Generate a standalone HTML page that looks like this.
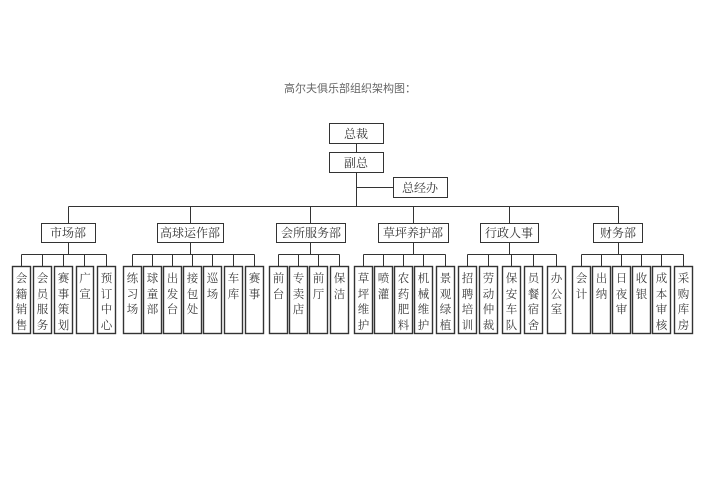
<!DOCTYPE html>
<html><head><meta charset="utf-8"><style>
body{margin:0;background:#fff}
svg{display:block}
text{font-family:"Liberation Serif","Noto Serif CJK SC","Noto Sans CJK SC",serif;font-size:12px;fill:#333}
#v text{font-size:11.5px;fill:#3a3a3a}
</style></head><body>
<svg width="707" height="500" xmlns="http://www.w3.org/2000/svg">
<text x="350" y="92" text-anchor="middle" style="font-family:'Liberation Sans','Noto Sans CJK SC',sans-serif;font-size:11px;fill:#666">高尔夫俱乐部组织架构图：</text>
<g stroke="#333" stroke-width="1" fill="none">
<rect x="329.5" y="123.5" width="54" height="20"/>
<rect x="329.5" y="152.5" width="54" height="20"/>
<rect x="393.5" y="177.5" width="54" height="20"/>
<path d="M356.5 143.5V152.5M356.5 172.5V206.5M356.5 187.5H393.5M68.5 206.5H618.5"/>
<path d="M68.5 206.5V223.5M190.5 206.5V223.5M310.5 206.5V223.5M413.5 206.5V223.5M509.5 206.5V223.5M618.5 206.5V223.5"/>
<rect x="41.5" y="223.5" width="54" height="19"/>
<rect x="157.5" y="223.5" width="66" height="19"/>
<rect x="276.5" y="223.5" width="69" height="19"/>
<rect x="378.5" y="223.5" width="70" height="19"/>
<rect x="480.5" y="223.5" width="58" height="19"/>
<rect x="593.5" y="223.5" width="49" height="19"/>
<path d="M68.5 242.5V254.5M190.5 242.5V254.5M310.5 242.5V254.5M413.5 242.5V254.5M509.5 242.5V254.5M618.5 242.5V254.5"/>
<path d="M21.5 254.5H106.5M132.5 254.5H254.5M278.5 254.5H339.5M363.5 254.5H445.5M467.5 254.5H556.5M581.5 254.5H683.5"/>
<path d="M21.5 254.5V266.5M42.5 254.5V266.5M63.5 254.5V266.5M84.5 254.5V266.5M106.5 254.5V266.5
M132.5 254.5V266.5M152.5 254.5V266.5M172.5 254.5V266.5M192.5 254.5V266.5M212.5 254.5V266.5M233.5 254.5V266.5M254.5 254.5V266.5
M278.5 254.5V266.5M298.5 254.5V266.5M318.5 254.5V266.5M339.5 254.5V266.5
M363.5 254.5V266.5M383.5 254.5V266.5M403.5 254.5V266.5M423.5 254.5V266.5M445.5 254.5V266.5
M467.5 254.5V266.5M488.5 254.5V266.5M511.5 254.5V266.5M533.5 254.5V266.5M556.5 254.5V266.5
M581.5 254.5V266.5M601.5 254.5V266.5M621.5 254.5V266.5M641.5 254.5V266.5M661.5 254.5V266.5M683.5 254.5V266.5"/>
<g stroke-width="1.4">
<rect x="12.5" y="266.5" width="18" height="67"/><rect x="33.5" y="266.5" width="18" height="67"/><rect x="54.5" y="266.5" width="18" height="67"/><rect x="76.5" y="266.5" width="17" height="67"/><rect x="97.5" y="266.5" width="18" height="67"/>
<rect x="123.5" y="266.5" width="18" height="67"/><rect x="143.5" y="266.5" width="18" height="67"/><rect x="163.5" y="266.5" width="18" height="67"/><rect x="183.5" y="266.5" width="18" height="67"/><rect x="203.5" y="266.5" width="18" height="67"/><rect x="224.5" y="266.5" width="18" height="67"/><rect x="245.5" y="266.5" width="18" height="67"/>
<rect x="269.5" y="266.5" width="18" height="67"/><rect x="289.5" y="266.5" width="18" height="67"/><rect x="309.5" y="266.5" width="18" height="67"/><rect x="330.5" y="266.5" width="18" height="67"/>
<rect x="354.5" y="266.5" width="18" height="67"/><rect x="374.5" y="266.5" width="18" height="67"/><rect x="394.5" y="266.5" width="18" height="67"/><rect x="414.5" y="266.5" width="18" height="67"/><rect x="436.5" y="266.5" width="18" height="67"/>
<rect x="458.5" y="266.5" width="18" height="67"/><rect x="479.5" y="266.5" width="18" height="67"/><rect x="502.5" y="266.5" width="18" height="67"/><rect x="524.5" y="266.5" width="18" height="67"/><rect x="547.5" y="266.5" width="18" height="67"/>
<rect x="572.5" y="266.5" width="18" height="67"/><rect x="592.5" y="266.5" width="18" height="67"/><rect x="612.5" y="266.5" width="18" height="67"/><rect x="632.5" y="266.5" width="18" height="67"/><rect x="652.5" y="266.5" width="18" height="67"/><rect x="674.5" y="266.5" width="18" height="67"/>
</g>
</g>
<g text-anchor="middle">
<text x="356" y="138">总裁</text>
<text x="356" y="167">副总</text>
<text x="420" y="192">总经办</text>
<text x="68" y="237">市场部</text>
<text x="190" y="237">高球运作部</text>
<text x="311" y="237">会所服务部</text>
<text x="413" y="237">草坪养护部</text>
<text x="509" y="237">行政人事</text>
<text x="618" y="237">财务部</text>
</g>
<g text-anchor="middle" id="v">
<text x="21.5" y="282">会</text><text x="21.5" y="298">籍</text><text x="21.5" y="313">销</text><text x="21.5" y="329">售</text>
<text x="42.5" y="282">会</text><text x="42.5" y="298">员</text><text x="42.5" y="313">服</text><text x="42.5" y="329">务</text>
<text x="63.5" y="282">赛</text><text x="63.5" y="298">事</text><text x="63.5" y="313">策</text><text x="63.5" y="329">划</text>
<text x="85" y="282">广</text><text x="85" y="298">宣</text>
<text x="106.5" y="282">预</text><text x="106.5" y="298">订</text><text x="106.5" y="313">中</text><text x="106.5" y="329">心</text>
<text x="132.5" y="282">练</text><text x="132.5" y="298">习</text><text x="132.5" y="313">场</text>
<text x="152.5" y="282">球</text><text x="152.5" y="298">童</text><text x="152.5" y="313">部</text>
<text x="172.5" y="282">出</text><text x="172.5" y="298">发</text><text x="172.5" y="313">台</text>
<text x="192.5" y="282">接</text><text x="192.5" y="298">包</text><text x="192.5" y="313">处</text>
<text x="212.5" y="282">巡</text><text x="212.5" y="298">场</text>
<text x="233.5" y="282">车</text><text x="233.5" y="298">库</text>
<text x="254.5" y="282">赛</text><text x="254.5" y="298">事</text>
<text x="278.5" y="282">前</text><text x="278.5" y="298">台</text>
<text x="298.5" y="282">专</text><text x="298.5" y="298">卖</text><text x="298.5" y="313">店</text>
<text x="318.5" y="282">前</text><text x="318.5" y="298">厅</text>
<text x="339.5" y="282">保</text><text x="339.5" y="298">洁</text>
<text x="363.5" y="282">草</text><text x="363.5" y="298">坪</text><text x="363.5" y="313">维</text><text x="363.5" y="329">护</text>
<text x="383.5" y="282">喷</text><text x="383.5" y="298">灌</text>
<text x="403.5" y="282">农</text><text x="403.5" y="298">药</text><text x="403.5" y="313">肥</text><text x="403.5" y="329">料</text>
<text x="423.5" y="282">机</text><text x="423.5" y="298">械</text><text x="423.5" y="313">维</text><text x="423.5" y="329">护</text>
<text x="445.5" y="282">景</text><text x="445.5" y="298">观</text><text x="445.5" y="313">绿</text><text x="445.5" y="329">植</text>
<text x="467.5" y="282">招</text><text x="467.5" y="298">聘</text><text x="467.5" y="313">培</text><text x="467.5" y="329">训</text>
<text x="488.5" y="282">劳</text><text x="488.5" y="298">动</text><text x="488.5" y="313">仲</text><text x="488.5" y="329">裁</text>
<text x="511.5" y="282">保</text><text x="511.5" y="298">安</text><text x="511.5" y="313">车</text><text x="511.5" y="329">队</text>
<text x="533.5" y="282">员</text><text x="533.5" y="298">餐</text><text x="533.5" y="313">宿</text><text x="533.5" y="329">舍</text>
<text x="556.5" y="282">办</text><text x="556.5" y="298">公</text><text x="556.5" y="313">室</text>
<text x="581.5" y="282">会</text><text x="581.5" y="298">计</text>
<text x="601.5" y="282">出</text><text x="601.5" y="298">纳</text>
<text x="621.5" y="282">日</text><text x="621.5" y="298">夜</text><text x="621.5" y="313">审</text>
<text x="641.5" y="282">收</text><text x="641.5" y="298">银</text>
<text x="661.5" y="282">成</text><text x="661.5" y="298">本</text><text x="661.5" y="313">审</text><text x="661.5" y="329">核</text>
<text x="683.5" y="282">采</text><text x="683.5" y="298">购</text><text x="683.5" y="313">库</text><text x="683.5" y="329">房</text>
</g>
</svg>
</body></html>
